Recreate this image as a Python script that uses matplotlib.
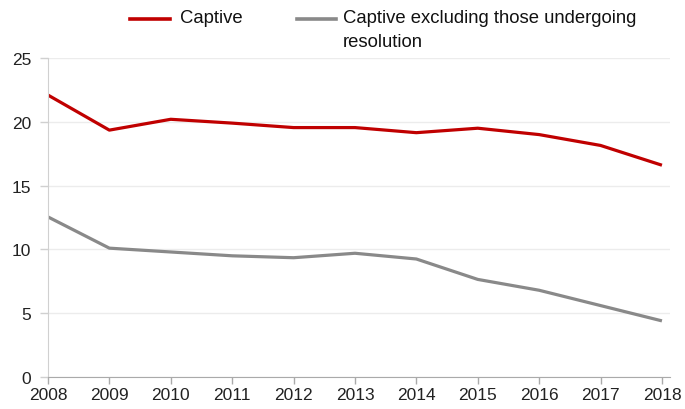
import matplotlib.pyplot as plt
from matplotlib.lines import Line2D

plt.rcParams["font.family"] = ["Liberation Sans", "DejaVu Sans"]

# ── data ──
years = [2008, 2009, 2010, 2011, 2012, 2013, 2014, 2015, 2016, 2017, 2018]
captive = [22.1, 19.35, 20.2, 19.9, 19.55, 19.55, 19.15, 19.5, 19.0, 18.15, 16.6]
captive_excl = [12.55, 10.1, 9.8, 9.5, 9.35, 9.7, 9.25, 7.65, 6.8, 5.6, 4.4]
yticks = [0, 5, 10, 15, 20, 25]
labels = ["Captive", "Captive excluding those undergoing\nresolution"]

RED = "#c00000"
GREY = "#898989"

W, H = 685, 410
fig = plt.figure(figsize=(W / 100, H / 100), dpi=100, facecolor="white")
ax = fig.add_axes([0.070, 0.078, 0.908, 0.778])

ax.plot(years, captive, color=RED, lw=2.3, solid_capstyle="butt")
ax.plot(years, captive_excl, color=GREY, lw=2.3, solid_capstyle="butt")

ax.set_xlim(2008, 2018.13)
ax.set_ylim(0, 25)
ax.set_xticks(years)
ax.set_yticks(yticks)
ax.tick_params(axis="both", labelsize=12.5, colors="#222222")
ax.tick_params(axis="y", length=6, width=1, color="#d0d0d0", pad=6)
ax.tick_params(axis="x", length=5, width=1, color="#aaaaaa", pad=2)
ax.grid(axis="y", color="#ececec", lw=1)
ax.set_axisbelow(True)

for s in ["top", "right"]:
    ax.spines[s].set_visible(False)
ax.spines["left"].set_color("#d0d0d0")
ax.spines["bottom"].set_color("#aaaaaa")

# legend drawn by hand so the handle sits on the first text line
def px(x, y):
    return x / W, 1 - y / H

for (x0, x1, tx), col, lab in zip([(130, 170, 180), (297, 336, 343)], [RED, GREY], labels):
    (a, b), (c, _) = px(x0, 20), px(x1, 20)
    fig.add_artist(Line2D([a, c], [b, b], color=col, lw=2.6, transform=fig.transFigure))
    tx_, ty_ = px(tx, 10)
    fig.text(tx_, ty_, lab, fontsize=13.3, va="top", ha="left", color="#111111",
             linespacing=1.55)

fig.savefig("out.png", dpi=100, facecolor="white")
